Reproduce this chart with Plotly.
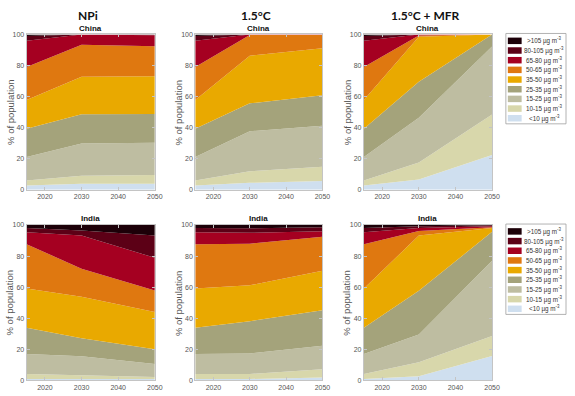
import plotly.graph_objects as go

W, H = 575, 396

years = [2015, 2030, 2050]
bins = ["<10", "10-15", "15-25", "25-35", "35-50", "50-65", "65-80", "80-105", ">105"]
colors = ["#cfdfef", "#d8d7ab", "#bebda1", "#a4a37b", "#e9a900",
          "#df7810", "#a50021", "#5c0016", "#1c0008"]

scenarios = ["NPi", "1.5°C", "1.5°C + MFR"]
regions = ["China", "India"]

# share of population (%) per concentration band, bottom band first; columns = years
china_npi = [[2.7, 3.8, 3.8], [3.2, 5.1, 5.7], [15.2, 20.9, 20.7], [18.2, 18.8, 18.6],
             [18.4, 24.1, 24.3], [21.4, 20.7, 19.3], [16.9, 6.6, 7.1], [3.0, 0.0, 0.3],
             [1.0, 0.0, 0.2]]
china_15 = [[2.7, 4.4, 5.5], [3.2, 7.4, 9.3], [15.2, 25.8, 26.4], [18.2, 18.0, 19.7],
            [18.4, 30.7, 30.2], [21.4, 13.3, 8.5], [16.9, 0.4, 0.4], [3.0, 0.0, 0.0],
            [1.0, 0.0, 0.0]]
china_mfr = [[2.7, 6.6, 22.4], [3.2, 10.9, 26.0], [15.2, 28.8, 43.8], [18.2, 23.3, 7.8],
             [18.4, 28.9, 0.0], [21.4, 0.9, 0.0], [16.9, 0.6, 0.0], [3.0, 0.0, 0.0],
             [1.0, 0.0, 0.0]]
india_npi = [[0.8, 1.0, 0.8], [3.2, 2.2, 1.3], [12.9, 12.2, 8.4], [16.9, 11.6, 9.5],
             [25.3, 26.8, 23.9], [28.5, 18.1, 13.9], [7.8, 21.3, 21.1], [2.7, 3.2, 14.3],
             [1.9, 3.6, 6.8]]
india_15 = [[0.8, 0.8, 1.7], [3.2, 3.2, 5.3], [12.9, 13.3, 15.2], [16.9, 20.7, 22.9],
            [25.3, 23.2, 25.4], [28.5, 26.8, 21.9], [7.8, 7.0, 3.6], [2.7, 2.9, 2.6],
            [1.9, 2.1, 1.4]]
india_mfr = [[0.8, 2.5, 15.6], [3.2, 9.1, 12.9], [12.9, 17.9, 48.5], [16.9, 28.1, 18.6],
             [25.3, 35.6, 2.5], [28.5, 3.0, 0.4], [7.8, 1.9, 0.7], [2.7, 1.1, 0.6],
             [1.9, 0.8, 0.2]]

panel_data = [[china_npi, china_15, china_mfr], [india_npi, india_15, india_mfr]]

# pixel layout of the panels
col_px = [(27, 157), (198, 327), (369, 499)]
row_px = [(31, 189), (225, 383)]

fig = go.Figure()
layout = {}
annotations = []
shapes = []

tick_font = dict(family="Liberation Sans, Arial", size=7, color="#555555")
for r, region in enumerate(regions):
    for c in range(3):
        idx = r * 3 + c + 1
        sfx = "" if idx == 1 else str(idx)
        data = panel_data[r][c]
        for b, name in enumerate(bins):
            fig.add_trace(go.Scatter(
                x=years, y=data[b], mode="lines", stackgroup=f"g{idx}",
                line=dict(width=0), fillcolor=colors[b], name=name,
                xaxis="x" + sfx, yaxis="y" + sfx, showlegend=False,
                hovertemplate=f"{name} µg m⁻³: %{{y:.1f}}%<extra></extra>",
            ))
        x0, x1 = col_px[c]
        y0, y1 = row_px[r]
        axis_common = dict(
            showline=True, linecolor="#c4c4c4", linewidth=1, mirror="allticks",
            ticks="inside", ticklen=3, tickcolor="#c4c4c4", showgrid=False,
            zeroline=False, tickfont=tick_font, fixedrange=True,
        )
        layout["xaxis" + sfx] = dict(
            axis_common, domain=[x0 / W, x1 / W], range=[2015, 2050],
            tickvals=[2020, 2030, 2040, 2050], anchor="y" + sfx,
        )
        layout["yaxis" + sfx] = dict(
            axis_common, domain=[1 - y1 / H, 1 - y0 / H], range=[0, 100],
            tickvals=[0, 20, 40, 60, 80, 100], anchor="x" + sfx,
        )
        # panel region title
        annotations.append(dict(
            text=f"<b>{region}</b>", x=(x0 + x1) / 2 / W, y=1 - (y0 - 6.5) / H,
            xref="paper", yref="paper", xanchor="center", yanchor="middle",
            showarrow=False, font=dict(family="Liberation Sans, Arial", size=8, color="#111"),
        ))
        annotations.append(dict(
            text="% of population", x=(x0 - 17) / W, y=1 - (y0 + y1) / 2 / H,
            xref="paper", yref="paper", xanchor="center", yanchor="middle",
            textangle=-90, showarrow=False,
            font=dict(family="Liberation Sans, Arial", size=9.5, color="#555555"),
        ))

# scenario column titles
for c, title in enumerate(scenarios):
    x0, x1 = col_px[c]
    annotations.append(dict(
        text=f"<b>{title}</b>", x=((x0 + x1) / 2 - 3) / W, y=1 - 12 / H,
        xref="paper", yref="paper", xanchor="center", yanchor="middle",
        showarrow=False, font=dict(family="Lato, Open Sans", size=12, color="#111"),
    ))

# legend boxes, one per row
for r in range(2):
    top = row_px[r][0] - 1
    shapes.append(dict(type="rect", xref="paper", yref="paper",
                       x0=513 / W, x1=574 / W, y0=1 - (top + 92) / H, y1=1 - top / H,
                       line=dict(color="#a0a0a0", width=0.8), fillcolor="white"))
    for i, b in enumerate(reversed(range(len(bins)))):
        cy = top + 7.5 + i * 9.85
        shapes.append(dict(type="rect", xref="paper", yref="paper",
                           x0=515 / W, x1=529 / W, y0=1 - (cy + 3.3) / H, y1=1 - (cy - 3.3) / H,
                           line=dict(width=0), fillcolor=colors[b]))
        annotations.append(dict(
            text=f"{bins[b]} µg m<sup>-3</sup>", x=552 / W, y=1 - cy / H,
            xref="paper", yref="paper", xanchor="center", yanchor="middle",
            showarrow=False, font=dict(family="Liberation Sans, Arial", size=6.3, color="#333"),
        ))

fig.update_layout(
    **layout,
    width=W, height=H, margin=dict(l=0, r=0, t=0, b=0),
    paper_bgcolor="white", plot_bgcolor="white",
    showlegend=False, annotations=annotations, shapes=shapes,
)

fig.write_html(
    "out.html",
    config={"displayModeBar": False},
    post_script=(
        "document.body.style.margin='0';document.body.style.overflow='hidden';"
        "var gd=document.getElementById('{plot_id}');"
        "gd.style.position='absolute';gd.style.top='0';gd.style.left='0';"
    ),
)
